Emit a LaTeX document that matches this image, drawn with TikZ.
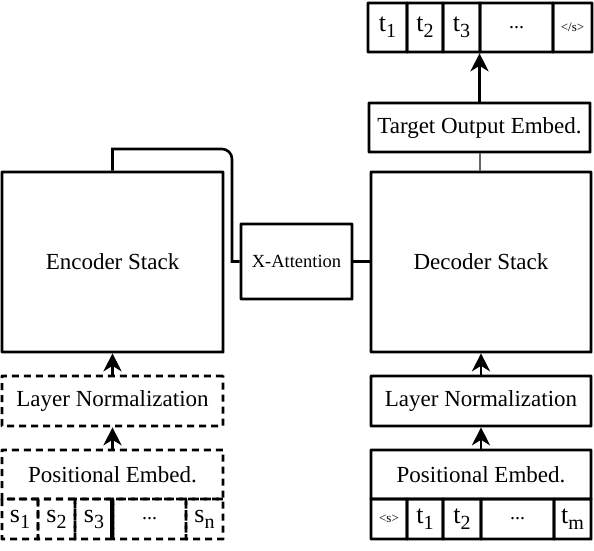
\documentclass[tikz,border=0pt]{standalone}
\usepackage{fontspec}
\setmainfont{Liberation Serif}
\usetikzlibrary{arrows.meta}

\newcommand{\tokdots}{...}
\newcommand{\lowsub}[1]{\raisebox{-6pt}{\fontsize{20}{20}\selectfont #1}}
\tikzset{
    blk/.style={draw, line width=2.6pt, rounded corners=0.1pt, inner sep=0pt, font=\fontsize{23}{27}\selectfont},
    dblk/.style={blk, dash pattern=on 7pt off 5pt},
    tok/.style={blk, minimum height=40pt, font=\fontsize{26}{30}\selectfont},
    arr/.style={line width=2.8pt, -{Stealth[length=18pt,width=18pt,inset=5.5pt]}},
}

\begin{document}
\begin{tikzpicture}[x=1pt, y=-1pt, line width=2.6pt]
    \useasboundingbox (0,0) rectangle (594,550);

    % encoder side
    \node[blk, minimum width=221pt, minimum height=180pt] (enc) at (112.5,262) {Encoder Stack};
    \node[dblk, minimum width=221pt, minimum height=50pt] (encnorm) at (112.5,401) {Layer Normalization};
    \node[dblk, minimum width=221pt, minimum height=49pt] (encpos) at (112.5,474.5) {Positional Embed.};
    \foreach \a/\b/\t [count=\i] in {2/38/s\lowsub{1}, 38/75/s\lowsub{2}, 75/113/s\lowsub{3},
                                    113/186/{\fontsize{20}{20}\selectfont\tokdots}, 186/223/s\lowsub{n}} {
        \node[tok, dblk, font=\fontsize{26}{30}\selectfont, minimum width={(\b-\a)*1pt}] (es\i) at ({(\a+\b)/2},519) {\t};
    }
    \draw (es4.north west) -- (es4.south west);

    % cross attention
    \node[blk, font=\fontsize{18.5}{22}\selectfont, minimum width=111pt, minimum height=75pt] (xatt) at (296.5,261.5) {X-Attention};

    % decoder side
    \node[blk, minimum width=220pt, minimum height=180pt] (dec) at (481,262) {Decoder Stack};
    \node[blk, minimum width=220pt, minimum height=50pt] (decnorm) at (481,401) {Layer Normalization};
    \node[blk, minimum width=220pt, minimum height=49pt] (decpos) at (481,474.5) {Positional Embed.};
    \foreach \a/\b/\t [count=\i] in {371/407/{\fontsize{13}{14}\selectfont <s>}, 407/443/t\lowsub{1},
                                    443/481/t\lowsub{2}, 481/554/{\fontsize{20}{20}\selectfont\tokdots}, 554/591/t\lowsub{m}} {
        \node[tok, minimum width={(\b-\a)*1pt}] (ds\i) at ({(\a+\b)/2},519) {\t};
    }
    \node[blk, minimum width=221pt, minimum height=49pt] (tgt) at (479.5,127.5) {Target Output Embed.};
    \foreach \a/\b/\t [count=\i] in {368/407/t\lowsub{1}, 407/443/t\lowsub{2}, 443/480/t\lowsub{3},
                                    480/553/{\fontsize{20}{20}\selectfont\tokdots}, 553/592/{\fontsize{13}{14}\selectfont </s>}} {
        \node[tok, minimum height=49pt, minimum width={(\b-\a)*1pt}] (ot\i) at ({(\a+\b)/2},27.5) {\t};
    }

    % connectors
    \draw[arr] (encpos.north) -- (encnorm.south);
    \draw[arr] (encnorm.north) -- (enc.south);
    \draw[arr] (decpos.north) -- (decnorm.south);
    \draw[arr] (decnorm.north) -- (dec.south);
    \draw[line width=2pt, black!60] (tgt.south |- dec.north) -- (tgt.south);
    \draw[arr] (tgt.north) -- (tgt.north |- ot4.south);

    \coordinate (bend) at (232,149);
    \draw (enc.north) -- (enc.north |- bend) [rounded corners=10pt] -- (bend)
        [sharp corners] -- (bend |- xatt.west) -- (xatt.west);
    \draw (xatt.east) -- (dec.west |- xatt.east);
\end{tikzpicture}
\end{document}
